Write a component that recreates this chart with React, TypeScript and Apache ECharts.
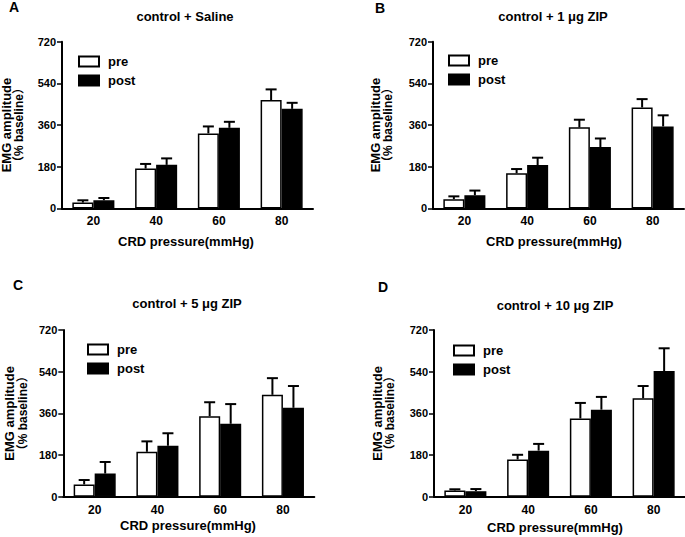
import React, { useEffect, useRef } from "react";
import * as echarts from "echarts";

const categories = ["20", "40", "60", "80"];
const panelLetters = ["A", "B", "C", "D"];
const panelTitles = ["control + Saline", "control + 1 μg ZIP", "control + 5 μg ZIP", "control + 10 μg ZIP"];
const yTicks = [0, 180, 360, 540, 720];

// pre / post means and upper error (SEM), per panel
const preA = [25, 172, 324, 468];
const preErrA = [10, 20, 30, 46];
const postA = [35, 188, 348, 430];
const postErrA = [10, 28, 26, 26];

const preB = [40, 152, 350, 436];
const preErrB = [12, 18, 33, 36];
const postB = [57, 187, 265, 354];
const postErrB = [20, 32, 37, 48];

const preC = [53, 194, 348, 440];
const preErrC = [19, 45, 60, 72];
const postC = [100, 220, 315, 384];
const postErrC = [50, 54, 85, 94];

const preD = [27, 161, 338, 425];
const preErrD = [5, 20, 67, 53];
const postD = [24, 199, 376, 543];
const postErrD = [9, 29, 55, 98];

const FONT = "'Liberation Sans', Arial, 'Noto Sans CJK SC', sans-serif";

const panels = [
  { pre: preA, preErr: preErrA, post: postA, postErr: postErrA },
  { pre: preB, preErr: preErrB, post: postB, postErr: postErrB },
  { pre: preC, preErr: preErrC, post: postC, postErr: postErrC },
  { pre: preD, preErr: preErrD, post: postD, postErr: postErrD },
];

// layout (pixels)
const grids = [
  { left: 62, top: 41.7, width: 251, height: 166.7 },
  { left: 433, top: 41.7, width: 251, height: 166.7 },
  { left: 63.3, top: 330, width: 251, height: 166.7 },
  { left: 434, top: 330, width: 251, height: 166.7 },
];
const titlePos = [
  [185, 16],
  [553, 16],
  [187, 303],
  [555, 305],
];
const letterPos = [
  [9, 7],
  [375, 8],
  [13, 285],
  [378, 287],
];
const xNamePos = [
  [186, 241],
  [554, 241],
  [188, 525],
  [555, 527],
];
const yNamePos = [
  [6, 18.5],
  [375.5, 388],
  [9.5, 23],
  [377.5, 390],
];
const legendPos = [
  [78, 55],
  [448, 54],
  [87, 343],
  [453, 344],
];

function errSeries(idx: number, vals: number[], errs: number[], offset: number) {
  return {
    type: "custom",
    name: "err",
    xAxisIndex: idx,
    yAxisIndex: idx,
    z: 5,
    silent: true,
    data: vals.map((v, i) => [i, v, errs[i]]),
    encode: { x: 0, y: 1 },
    renderItem: (params: any, api: any) => {
      const c = api.value(0);
      const v = api.value(1);
      const e = api.value(2);
      const base = api.coord([c, v]);
      const top = api.coord([c, v + e]);
      const band = api.size([1, 0])[0];
      const x = base[0] + offset * band;
      const half = 5.5;
      return {
        type: "group",
        children: [
          { type: "line", shape: { x1: x, y1: base[1], x2: x, y2: top[1] }, style: { stroke: "#000", lineWidth: 2 } },
          { type: "line", shape: { x1: x - half, y1: top[1], x2: x + half, y2: top[1] }, style: { stroke: "#000", lineWidth: 2 } },
        ],
      };
    },
  };
}

export default function App() {
  const ref = useRef<HTMLDivElement>(null);
  useEffect(() => {
    if (!ref.current) return;
    const chart = echarts.init(ref.current, null, { renderer: "svg" });
    const series: any[] = [];
    const graphic: any[] = [];
    panels.forEach((p, i) => {
      series.push({
        type: "bar",
        name: "pre",
        xAxisIndex: i,
        yAxisIndex: i,
        data: p.pre,
        barGap: "0%",
        barCategoryGap: "33%",
        itemStyle: { color: "#fff", borderColor: "#000", borderWidth: 1.5 },
      });
      series.push({
        type: "bar",
        name: "post",
        xAxisIndex: i,
        yAxisIndex: i,
        data: p.post,
        barGap: "0%",
        barCategoryGap: "33%",
        itemStyle: { color: "#000", borderColor: "#000", borderWidth: 1.5 },
      });
      series.push(errSeries(i, p.pre, p.preErr, -0.1675));
      series.push(errSeries(i, p.post, p.postErr, 0.1675));

      graphic.push({
        type: "text",
        x: letterPos[i][0],
        y: letterPos[i][1],
        style: { text: panelLetters[i], font: `bold 14px ${FONT}`, fill: "#000", textVerticalAlign: "middle" },
      });
      graphic.push({
        type: "text",
        x: titlePos[i][0],
        y: titlePos[i][1],
        style: { text: panelTitles[i], font: `bold 13px ${FONT}`, fill: "#000", textAlign: "center", textVerticalAlign: "middle" },
      });
      graphic.push({
        type: "text",
        x: xNamePos[i][0],
        y: xNamePos[i][1],
        style: { text: "CRD pressure(mmHg)", font: `bold 13px ${FONT}`, fill: "#000", textAlign: "center", textVerticalAlign: "middle" },
      });
      const cy = grids[i].top + grids[i].height / 2;
      graphic.push({
        type: "text",
        x: yNamePos[i][0],
        y: cy,
        rotation: Math.PI / 2,
        style: { text: "EMG amplitude", font: `bold 13px ${FONT}`, fill: "#000", textAlign: "center", textVerticalAlign: "middle" },
      });
      graphic.push({
        type: "text",
        x: yNamePos[i][1],
        y: cy,
        rotation: Math.PI / 2,
        style: { text: "（% baseline）", font: `bold 12px ${FONT}`, fill: "#000", textAlign: "center", textVerticalAlign: "middle" },
      });
    });

    chart.setOption({
      animation: false,
      backgroundColor: "#fff",
      textStyle: { fontFamily: FONT },
      grid: grids.map((g) => ({ ...g, containLabel: false })),
      legend: legendPos.map((lp) => ({
        data: ["pre", "post"],
        orient: "vertical",
        left: lp[0],
        top: lp[1],
        padding: 0,
        itemWidth: 20,
        itemHeight: 10,
        itemGap: 6,
        selectedMode: false,
        icon: "rect",
        textStyle: { fontFamily: FONT, fontWeight: "bold", fontSize: 13, color: "#000", padding: [0, 0, 0, 4] },
      })),
      xAxis: grids.map((_, i) => ({
        type: "category",
        gridIndex: i,
        data: categories,
        axisLine: { lineStyle: { color: "#000", width: 2 } },
        axisTick: { alignWithLabel: true, length: 4, lineStyle: { color: "#000", width: 1.5 } },
        axisLabel: { color: "#000", fontWeight: "bold", fontSize: 12, margin: 7, fontFamily: FONT },
        splitLine: { show: false },
      })),
      yAxis: grids.map((_, i) => ({
        type: "value",
        gridIndex: i,
        min: yTicks[0],
        max: yTicks[yTicks.length - 1],
        interval: yTicks[1] - yTicks[0],
        axisLine: { show: true, lineStyle: { color: "#000", width: 2 } },
        axisTick: { show: true, length: 5, lineStyle: { color: "#000", width: 1.5 } },
        axisLabel: { color: "#000", fontWeight: "bold", fontSize: 11, margin: 6, fontFamily: FONT },
        splitLine: { show: false },
      })),
      series,
      graphic,
    });
    return () => chart.dispose();
  }, []);
  return <div ref={ref} style={{ position: "absolute", left: 0, top: 0, width: 685, height: 537 }} />;
}
